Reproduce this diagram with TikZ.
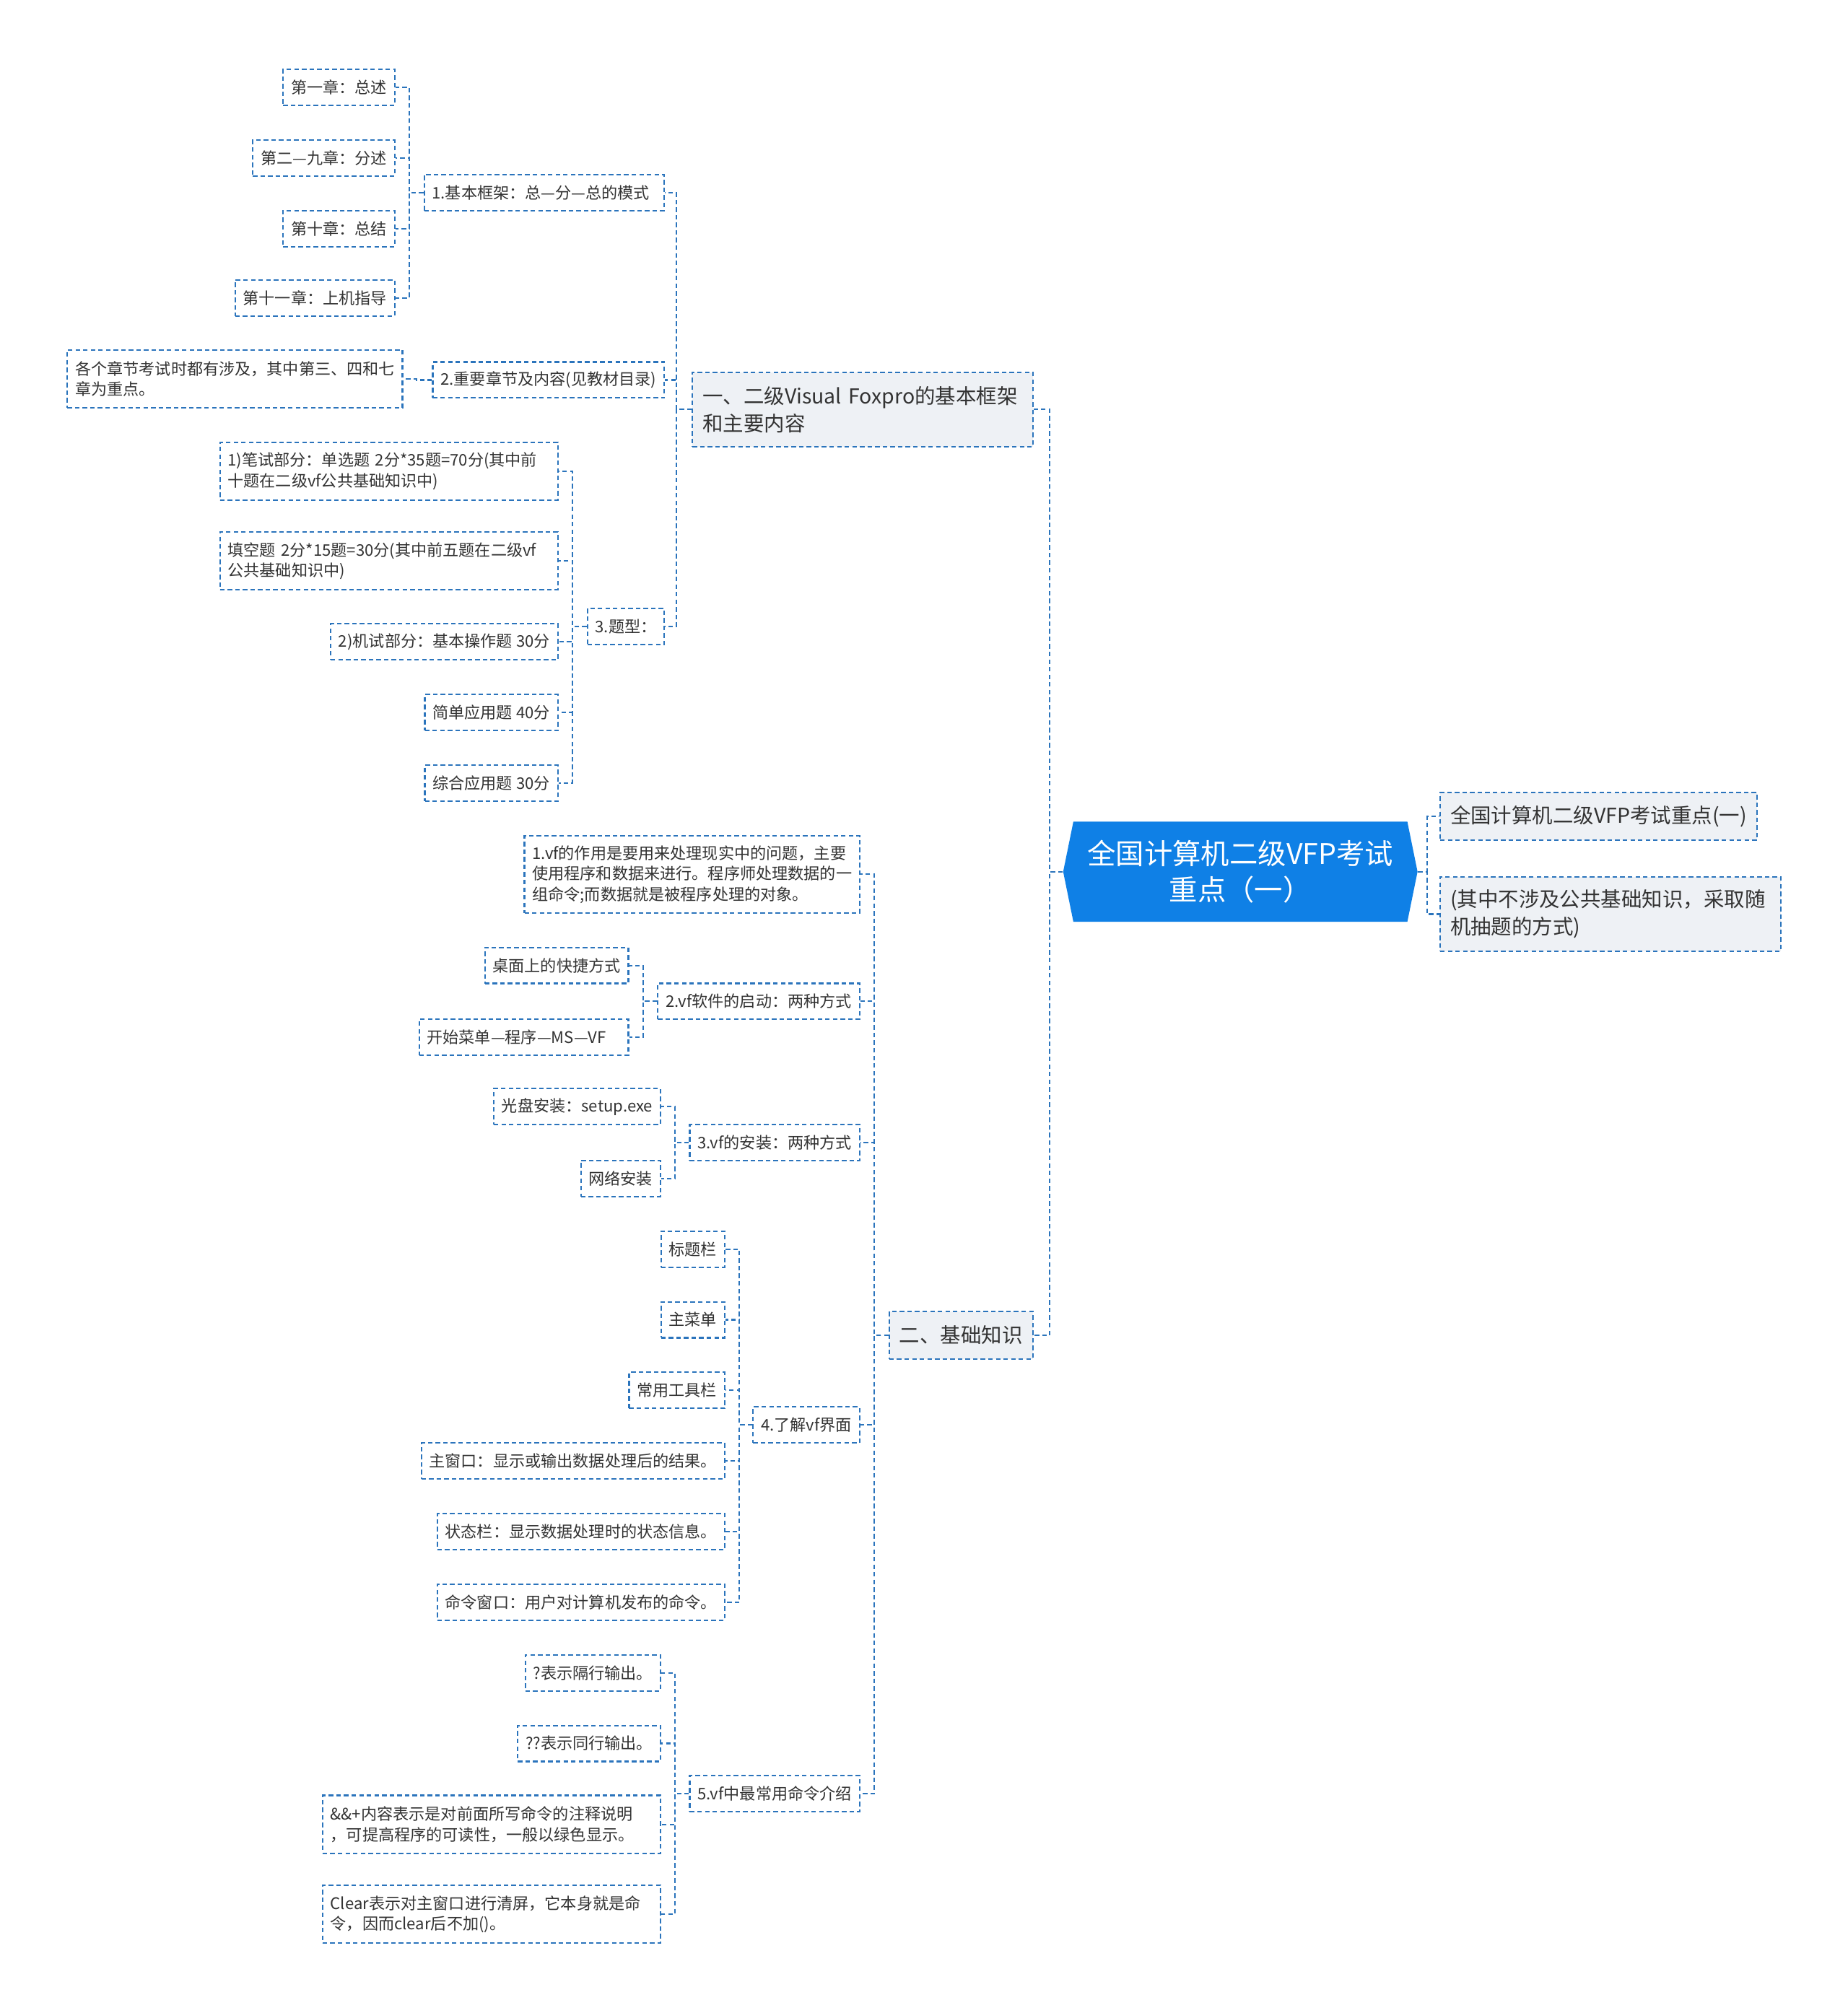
\documentclass[tikz,border=0pt]{standalone}
\usepackage{fontspec}
\usepackage{tikz}
\usetikzlibrary{shapes.symbols}
\newfontfamily\cjk{Noto Sans CJK SC}
\definecolor{linkblue}{HTML}{2B74BC}
\definecolor{rootblue}{HTML}{0F80E6}
\definecolor{topicgray}{HTML}{EEF1F5}
\definecolor{inkgray}{HTML}{333333}
\tikzset{
  leafnode/.style={draw=linkblue,dash pattern=on 1.8pt off 1.2pt,line width=0.6pt,
    fill=white,align=left,inner xsep=3.1pt,inner ysep=1.5pt,minimum height=14.2pt,
    text=inkgray,font=\cjk\fontsize{6.3pt}{8.1pt}\selectfont},
  topicnode/.style={leafnode,fill=topicgray,inner xsep=4pt,minimum height=18.7pt,
    font=\cjk\fontsize{8.1pt}{10.9pt}\selectfont},
  rootnode/.style={signal,signal to=west and east,signal pointer angle=157,
    fill=rootblue,text=white,align=center,inner xsep=4pt,
    minimum width=139.7pt,minimum height=39.5pt,
    font=\cjk\fontsize{11.2pt}{14.2pt}\selectfont},
  link/.style={draw=linkblue,dash pattern=on 1.8pt off 1.2pt,line width=0.6pt}
}
\begin{document}
\begin{tikzpicture}[x=0.01779cm,y=-0.01779cm]
\path[use as bounding box,fill=white] (0,0) rectangle (1439,1568);
\node[rootnode] (root) at (966,679) {全国计算机二级VFP考试\\重点（一）};
\node[topicnode,anchor=west] (R1) at (1121,636) {全国计算机二级VFP考试重点(一)};
\node[topicnode,anchor=west,minimum height=29.4pt,text width=126.2pt] (R2) at (1121,712)
  {(其中不涉及公共基础知识，采取随\\机抽题的方式)};
\node[topicnode,anchor=east,minimum height=29.4pt,text width=126.2pt] (L1) at (805,319)
  {一、二级Visual Foxpro的基本框架\\和主要内容};
\node[topicnode,anchor=east] (L2) at (805,1040) {二、基础知识};

\node[leafnode,anchor=east,text width=88.5pt] (A1) at (518,150) {1.基本框架：总—分—总的模式};
\node[leafnode,anchor=east] (A2) at (518,296) {2.重要章节及内容(见教材目录)};
\node[leafnode,anchor=east] (A3) at (518,488) {3.题型：};
\node[leafnode,anchor=east] (a11) at (308,68) {第一章：总述};
\node[leafnode,anchor=east] (a12) at (308,123) {第二—九章：分述};
\node[leafnode,anchor=east] (a13) at (308,178) {第十章：总结};
\node[leafnode,anchor=east] (a14) at (308,232) {第十一章：上机指导};
\node[leafnode,anchor=east,minimum height=22.8pt,text width=125.9pt] (a21) at (314,295)
  {各个章节考试时都有涉及，其中第三、四和七\\章为重点。};
\node[leafnode,anchor=east,minimum height=22.8pt,text width=127pt] (a31) at (435,367)
  {1)笔试部分：单选题 2分*35题=70分(其中前\\十题在二级vf公共基础知识中)};
\node[leafnode,anchor=east,minimum height=22.8pt,text width=127pt] (a32) at (435,437)
  {填空题 2分*15题=30分(其中前五题在二级vf\\公共基础知识中)};
\node[leafnode,anchor=east] (a33) at (435,500) {2)机试部分：基本操作题 30分};
\node[leafnode,anchor=east] (a34) at (435,555) {简单应用题 40分};
\node[leafnode,anchor=east] (a35) at (435,610) {综合应用题 30分};

\node[leafnode,anchor=east,minimum height=30.4pt,text width=125.9pt] (B1) at (670,681)
  {1.vf的作用是要用来处理现实中的问题，主要\\使用程序和数据来进行。程序师处理数据的一\\组命令;而数据就是被程序处理的对象。};
\node[leafnode,anchor=east] (B2) at (670,780) {2.vf软件的启动：两种方式};
\node[leafnode,anchor=east] (B3) at (670,890) {3.vf的安装：两种方式};
\node[leafnode,anchor=east] (B4) at (670,1110) {4.了解vf界面};
\node[leafnode,anchor=east] (B5) at (670,1397) {5.vf中最常用命令介绍};
\node[leafnode,anchor=east] (b21) at (490,752) {桌面上的快捷方式};
\node[leafnode,anchor=east,text width=76.3pt] (b22) at (490,808) {开始菜单—程序—MS—VF};
\node[leafnode,anchor=east] (b31) at (515,862) {光盘安装：setup.exe};
\node[leafnode,anchor=east] (b32) at (515,918) {网络安装};
\node[leafnode,anchor=east] (b41) at (565,973) {标题栏};
\node[leafnode,anchor=east] (b42) at (565,1028) {主菜单};
\node[leafnode,anchor=east] (b43) at (565,1083) {常用工具栏};
\node[leafnode,anchor=east] (b44) at (565,1138) {主窗口：显示或输出数据处理后的结果。};
\node[leafnode,anchor=east] (b45) at (565,1193) {状态栏：显示数据处理时的状态信息。};
\node[leafnode,anchor=east] (b46) at (565,1248) {命令窗口：用户对计算机发布的命令。};
\node[leafnode,anchor=east] (b51) at (515,1303) {?表示隔行输出。};
\node[leafnode,anchor=east] (b52) at (515,1358) {??表示同行输出。};
\node[leafnode,anchor=east,minimum height=22.8pt,text width=127pt] (b53) at (515,1421)
  {\&\&+内容表示是对前面所写命令的注释说明\\，可提高程序的可读性，一般以绿色显示。};
\node[leafnode,anchor=east,minimum height=22.8pt,text width=127pt] (b54) at (515,1491)
  {Clear表示对主窗口进行清屏，它本身就是命\\令，因而clear后不加()。};

\draw[link] (root.west) -- ++(-10,0) |- (L1.east);
\draw[link] (root.west) -- ++(-10,0) |- (L2.east);
\draw[link] (root.east) -- ++(7,0) |- (R1.west);
\draw[link] (root.east) -- ++(7,0) |- (R2.west);
\draw[link] (L1.west) -- ++(-12,0) |- (A1.east);
\draw[link] (L1.west) -- ++(-12,0) |- (A2.east);
\draw[link] (L1.west) -- ++(-12,0) |- (A3.east);
\draw[link] (A1.west) -- ++(-11,0) |- (a11.east);
\draw[link] (A1.west) -- ++(-11,0) |- (a12.east);
\draw[link] (A1.west) -- ++(-11,0) |- (a13.east);
\draw[link] (A1.west) -- ++(-11,0) |- (a14.east);
\draw[link] (A2.west) -- ++(-12,0) |- (a21.east);
\draw[link] (A3.west) -- ++(-11,0) |- (a31.east);
\draw[link] (A3.west) -- ++(-11,0) |- (a32.east);
\draw[link] (A3.west) -- ++(-11,0) |- (a33.east);
\draw[link] (A3.west) -- ++(-11,0) |- (a34.east);
\draw[link] (A3.west) -- ++(-11,0) |- (a35.east);
\draw[link] (L2.west) -- ++(-11,0) |- (B1.east);
\draw[link] (L2.west) -- ++(-11,0) |- (B2.east);
\draw[link] (L2.west) -- ++(-11,0) |- (B3.east);
\draw[link] (L2.west) -- ++(-11,0) |- (B4.east);
\draw[link] (L2.west) -- ++(-11,0) |- (B5.east);
\draw[link] (B2.west) -- ++(-11,0) |- (b21.east);
\draw[link] (B2.west) -- ++(-11,0) |- (b22.east);
\draw[link] (B3.west) -- ++(-11,0) |- (b31.east);
\draw[link] (B3.west) -- ++(-11,0) |- (b32.east);
\draw[link] (B4.west) -- ++(-10,0) |- (b41.east);
\draw[link] (B4.west) -- ++(-10,0) |- (b42.east);
\draw[link] (B4.west) -- ++(-10,0) |- (b43.east);
\draw[link] (B4.west) -- ++(-10,0) |- (b44.east);
\draw[link] (B4.west) -- ++(-10,0) |- (b45.east);
\draw[link] (B4.west) -- ++(-10,0) |- (b46.east);
\draw[link] (B5.west) -- ++(-11,0) |- (b51.east);
\draw[link] (B5.west) -- ++(-11,0) |- (b52.east);
\draw[link] (B5.west) -- ++(-11,0) |- (b53.east);
\draw[link] (B5.west) -- ++(-11,0) |- (b54.east);
\end{tikzpicture}
\end{document}
